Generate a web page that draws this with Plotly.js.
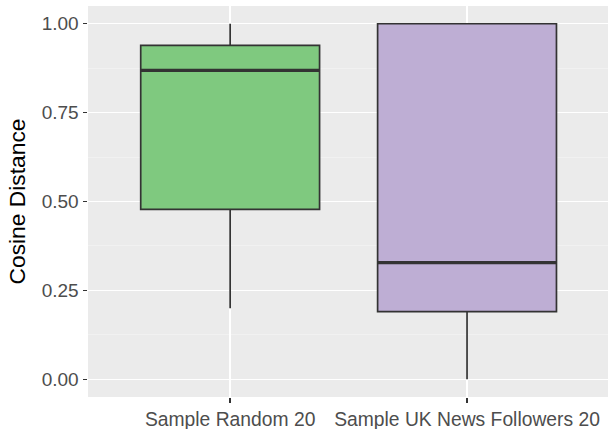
<!DOCTYPE html>
<html>
<head>
<meta charset="utf-8">
<script src="https://cdn.plot.ly/plotly-3.0.1.min.js"></script>
<style>html,body{margin:0;padding:0;background:#fff;}#chart{width:608px;height:429px;}</style>
</head>
<body>
<div id="chart"></div>
<script>
var categories = ["Sample Random 20", "Sample UK News Followers 20"];
var lowerWhisker = [0.20, 0.00];
var q1Values = [0.478, 0.19];
var medians = [0.869, 0.328];
var q3Values = [0.939, 1.00];
var upperWhisker = [1.00, 1.00];
var fillColors = ["#7FC97F", "#BEAED4"];
var yTicks = [0, 0.25, 0.5, 0.75, 1.0];

var boxWidth = 0.755;
var traces = [];
categories.forEach(function (c, i) {
  traces.push({
    type: "box",
    x: [i],
    q1: [q1Values[i]],
    median: [medians[i]],
    q3: [q3Values[i]],
    lowerfence: [lowerWhisker[i]],
    upperfence: [upperWhisker[i]],
    width: boxWidth,
    whiskerwidth: 0,
    fillcolor: fillColors[i],
    line: { color: "#333333", width: 1.7 },
    boxpoints: false,
    hoverinfo: "skip",
    showlegend: false
  });
});
// thicker median lines (ggplot draws the median with a fatter stroke)
categories.forEach(function (c, i) {
  traces.push({
    type: "scatter",
    mode: "lines",
    x: [i - boxWidth / 2, i + boxWidth / 2],
    y: [medians[i], medians[i]],
    line: { color: "#333333", width: 3.4 },
    hoverinfo: "skip",
    showlegend: false
  });
});

var layout = {
  width: 608,
  height: 429,
  margin: { l: 88, r: 0, t: 6, b: 32 },
  paper_bgcolor: "#FFFFFF",
  plot_bgcolor: "#EBEBEB",
  font: { family: "Liberation Sans, Arial, sans-serif", color: "#4D4D4D", size: 19.3 },
  showlegend: false,
  xaxis: {
    range: [-0.6, 1.595],
    tickvals: [0, 1],
    ticktext: categories,
    showgrid: true,
    gridcolor: "#FFFFFF",
    gridwidth: 1.3,
    zeroline: false,
    showline: false,
    ticks: "outside",
    ticklen: 4.5,
    tickwidth: 1.3,
    tickcolor: "#333333",
    tickfont: { size: 19.3, color: "#4D4D4D" },
    automargin: false,
    fixedrange: true
  },
  yaxis: {
    range: [-0.05, 1.05],
    tickvals: yTicks,
    tickformat: ".2f",
    showgrid: true,
    gridcolor: "#FFFFFF",
    gridwidth: 1.3,
    minor: { dtick: 0.125, tick0: 0, showgrid: true, gridcolor: "#F5F5F5", gridwidth: 0.65, ticks: "" },
    zeroline: false,
    showline: false,
    ticks: "outside",
    ticklen: 4.5,
    tickwidth: 1.3,
    tickcolor: "#333333",
    tickfont: { size: 19.0, color: "#4D4D4D" },
    title: { text: "Cosine Distance", font: { size: 22.8, color: "#000000" }, standoff: 9 },
    automargin: false,
    fixedrange: true
  }
};

Plotly.newPlot("chart", traces, layout, { staticPlot: true, displayModeBar: false });
</script>
</body>
</html>
